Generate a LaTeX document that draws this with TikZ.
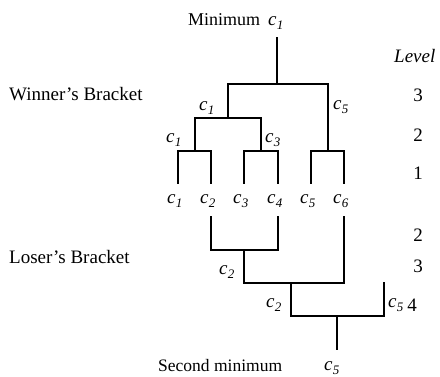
\documentclass[tikz,border=0pt]{standalone}
\usepackage{fontspec}
\setmainfont{Liberation Serif}
\newcommand\cv[1]{\textit{c}\kern0.3pt\raisebox{-4.5pt}{\fontsize{13}{13}\selectfont\textit{#1}}}
\tikzset{
  br/.style={line width=1.8pt, line cap=rect},
  lbl/.style={anchor=base west, inner sep=0pt, font=\fontsize{19}{19}\selectfont},
  lvl/.style={anchor=base, inner sep=0pt, font=\fontsize{19}{19}\selectfont}
}
\begin{document}
\begin{tikzpicture}[x=1pt,y=-1pt]
\useasboundingbox (0,0) rectangle (440,376);
% winner's bracket
\coordinate (rt) at (277,38);
\coordinate (rj) at (277,84);
\coordinate (w3l) at (228,84);
\coordinate (w3r) at (328,84);
\coordinate (w2l) at (195,118);
\coordinate (w2r) at (261,118);
\coordinate (w2j) at (228,118);
\coordinate (p1l) at (178,151); \coordinate (p1r) at (211,151); \coordinate (p1j) at (195,151);
\coordinate (p2l) at (244,151); \coordinate (p2r) at (278,151); \coordinate (p2j) at (261,151);
\coordinate (p3l) at (311,151); \coordinate (p3r) at (344,151); \coordinate (p3j) at (328,151);
\coordinate (b1) at (178,183); \coordinate (b2) at (211,183); \coordinate (b3) at (244,183);
\coordinate (b4) at (278,183); \coordinate (b5) at (311,183); \coordinate (b6) at (344,183);
\draw[br] (rt) -- (rj);
\draw[br] (w3l) -- (w3r);
\draw[br] (w3l) -- (w2j);
\draw[br] (w3r) -- (p3j);
\draw[br] (w2l) -- (w2r);
\draw[br] (w2l) -- (p1j);
\draw[br] (w2r) -- (p2j);
\draw[br] (b1) -- (p1l) -- (p1r) -- (b2);
\draw[br] (b3) -- (p2l) -- (p2r) -- (b4);
\draw[br] (b5) -- (p3l) -- (p3r) -- (b6);
% loser's bracket
\coordinate (t2) at (211,217); \coordinate (t4) at (278,217); \coordinate (t6) at (344,217);
\coordinate (l2l) at (211,250); \coordinate (l2r) at (278,250); \coordinate (l2j) at (244,250);
\coordinate (l3l) at (244,283); \coordinate (l3r) at (344,283); \coordinate (l3j) at (291,283);
\coordinate (l4l) at (291,316); \coordinate (l4r) at (384,316); \coordinate (l4j) at (337,316);
\coordinate (t5) at (384,283);
\coordinate (sm) at (337,349);
\draw[br] (t2) -- (l2l) -- (l2r) -- (t4);
\draw[br] (l2j) -- (l3l) -- (l3r) -- (t6);
\draw[br] (l3j) -- (l4l) -- (l4r) -- (t5);
\draw[br] (l4j) -- (sm);
\draw[line width=2.6pt] ([xshift=-6pt]l4j) -- ([xshift=6pt]l4j);
% texts
\node[lbl, font=\fontsize{18}{18}\selectfont] (tmin) at (188,25) {Minimum};
\node[lbl] (tmc) at (268,25) {\cv{1}};
\node[lbl] (tlev) at (394,62) {\textit{Level}};
\node[lbl] (twb) at (9,100) {Winner’s Bracket};
\node[lbl] (tlb) at (9,263) {Loser’s Bracket};
\node[lbl, font=\fontsize{17.5}{17.5}\selectfont] (tsm) at (158,371) {Second minimum};
\node[lbl] (tsc) at (324,370) {\cv{5}};
\node[lbl] (a1) at (199,110) {\cv{1}};
\node[lbl] (a5) at (333,109) {\cv{5}};
\node[lbl] (a11) at (166,142) {\cv{1}};
\node[lbl] (a3) at (265,142) {\cv{3}};
\node[lbl] (f1) at (167,203) {\cv{1}};
\node[lbl] (f2) at (200,203) {\cv{2}};
\node[lbl] (f3) at (233,203) {\cv{3}};
\node[lbl] (f4) at (267,203) {\cv{4}};
\node[lbl] (f5) at (300,203) {\cv{5}};
\node[lbl] (f6) at (333,203) {\cv{6}};
\node[lbl] (g2) at (219,274) {\cv{2}};
\node[lbl] (g22) at (266,307) {\cv{2}};
\node[lbl] (g5) at (388,307) {\cv{5}};
\node[lvl] (n3) at (418,101) {3};
\node[lvl] (n2) at (418,141) {2};
\node[lvl] (n1) at (418,179) {1};
\node[lvl] (m2) at (418,241) {2};
\node[lvl] (m3) at (418,272) {3};
\node[lvl] (m4) at (412,311) {4};
\end{tikzpicture}
\end{document}
